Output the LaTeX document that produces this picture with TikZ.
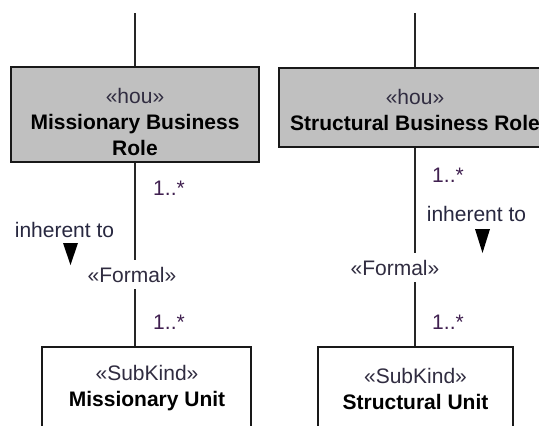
\documentclass[tikz,border=0pt]{standalone}
\usepackage{fontspec}
\setmainfont{Liberation Sans}
\definecolor{boxgray}{RGB}{192,192,192}
\definecolor{stereocol}{RGB}{48,44,64}
\definecolor{multcol}{RGB}{64,32,80}
\definecolor{lblcol}{RGB}{40,40,64}
\begin{document}
\begin{tikzpicture}[x=1pt,y=-1pt,
  every node/.style={font=\fontsize{21}{26}\selectfont, inner sep=0pt},
  boxline/.style={draw=black!90, line width=1.5pt},
  graybox/.style={boxline, fill=boxgray, rectangle},
  whitebox/.style={boxline, fill=white, rectangle},
  conn/.style={draw=black!85, line width=1.4pt},
  stereo/.style={text=stereocol},
  mult/.style={text=multcol},
  lbl/.style={text=lblcol},
  navtri/.style={fill=black, draw=none}]
\useasboundingbox (0,0) rectangle (539,426);
\clip (0,0) rectangle (539,426);
\fill[white] (0,0) rectangle (539,426);

% top boxes
\node[graybox, minimum width=248pt, minimum height=95pt] (mbr) at (135,114.5) {};
\node[align=center] (mbrt) at (135,121.5) {\textcolor{stereocol}{«hou»}\\\textbf{Missionary Business}\\\textbf{Role}};
\node[graybox, minimum width=272pt, minimum height=79pt] (sbr) at (415,107.5) {};
\node[align=center] (sbrt) at (415,109.5) {\textcolor{stereocol}{«hou»}\\\textbf{Structural Business Role}};

% bottom boxes
\node[whitebox, minimum width=209pt, minimum height=82pt] (mu) at (146.5,388) {};
\node[align=center] (mut) at (147,388.5) {\textcolor{stereocol}{«SubKind»}\\\textbf{Missionary Unit}};
\node[whitebox, minimum width=195pt, minimum height=82pt] (su) at (415.5,388) {};
\node[align=center] (sut) at (415.5,388.5) {\textcolor{stereocol}{«SubKind»}\\\textbf{Structural Unit}};

% formal labels
\node[stereo, minimum height=29pt] (f1) at (132,274.5) {«Formal»};
\node[stereo, minimum height=29pt] (f2) at (395,267.5) {«Formal»};

% top free ends
\coordinate (t1) at (135,13);
\coordinate (t2) at (415,13);

% connectors
\draw[conn] (t1) -- (t1 |- mbr.north);
\draw[conn] (t2) -- (t2 |- sbr.north);
\draw[conn] (t1 |- mbr.south) -- (t1 |- f1.north);
\draw[conn] (t1 |- f1.south) -- (t1 |- mu.north);
\draw[conn] (t2 |- sbr.south) -- (t2 |- f2.north);
\draw[conn] (t2 |- f2.south) -- (t2 |- su.north);

% multiplicities
\node[mult] (m1) at (169,188) {1..*};
\node[mult] (m2) at (169,322) {1..*};
\node[mult] (m3) at (448,175) {1..*};
\node[mult] (m4) at (448,322) {1..*};

% role labels
\node[lbl] (r1) at (64.5,230) {inherent to};
\node[lbl] (r2) at (476.5,214) {inherent to};
\fill[navtri] (63,243) -- (78,243) -- (70.5,265) -- cycle;
\fill[navtri] (475,229) -- (490,229) -- (482.5,253) -- cycle;
\end{tikzpicture}
\end{document}
